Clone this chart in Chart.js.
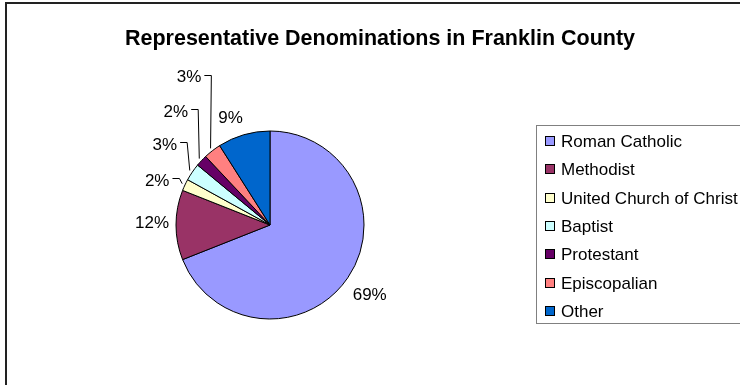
<!DOCTYPE html>
<html>
<head>
<meta charset="utf-8">
<script src="https://cdn.jsdelivr.net/npm/chart.js@4"></script>
<style>
  html, body { margin: 0; padding: 0; background: #fff; }
  #wrap { width: 740px; height: 385px; }
</style>
</head>
<body>
<div id="wrap"><canvas id="denomChart" width="740" height="385"></canvas></div>
<script>
const ctx = document.getElementById('denomChart').getContext('2d');

// Chart data
const labels = ['Roman Catholic', 'Methodist', 'United Church of Christ', 'Baptist', 'Protestant', 'Episcopalian', 'Other'];
const shares = [69, 12, 2, 3, 2, 3, 9];
const colors = ['#9999FF', '#993366', '#FFFFCC', '#CCFFFF', '#660066', '#FF8080', '#0066CC'];

// Label placement (distance from centre in px, angle shift in degrees, leader line)
const labelPos = [
	[122, 1, false],
	[118, 1, false],
	[121, -4, true],
	[132, 3, true],
	[147, 7, true],
	[168, 9, true],
	[114, -4, false]
];

const FONT = '"Liberation Sans", Arial, sans-serif';

const decorations = {
	id: 'decorations',
	beforeDraw(chart) {
		const c = chart.ctx;
		c.save();
		c.fillStyle = '#fff';
		c.fillRect(0, 0, chart.width, chart.height);
		// chart area frame
		c.strokeStyle = '#222';
		c.lineWidth = 2;
		c.strokeRect(6, 3, 760, 400);
		// title
		c.fillStyle = '#000';
		c.font = 'bold 21.5px ' + FONT;
		c.textAlign = 'center';
		c.textBaseline = 'alphabetic';
		c.fillText('Representative Denominations in Franklin County', 380, 45);
		// legend
		c.strokeStyle = '#808080';
		c.lineWidth = 1;
		c.strokeRect(536.5, 125.5, 260, 198);
		c.font = '17px ' + FONT;
		c.textAlign = 'left';
		chart.data.labels.forEach((lab, i) => {
			const cy = 141 + i * 28.3;
			c.fillStyle = colors[i];
			c.fillRect(545, Math.round(cy - 5), 10, 10);
			c.strokeStyle = '#000';
			c.strokeRect(545.5, Math.round(cy - 5) + 0.5, 9, 9);
			c.fillStyle = '#000';
			c.fillText(lab, 561, cy + 6);
		});
		c.restore();
	},
	afterDatasetsDraw(chart) {
		const c = chart.ctx;
		const meta = chart.getDatasetMeta(0);
		c.save();
		c.font = '17px ' + FONT;
		c.fillStyle = '#000';
		c.strokeStyle = '#000';
		c.lineWidth = 1;
		c.textAlign = 'center';
		c.textBaseline = 'middle';
		meta.data.forEach((arc, i) => {
			const p = arc.getProps(['x', 'y', 'startAngle', 'endAngle', 'outerRadius'], true);
			const mid = (p.startAngle + p.endAngle) / 2;
			const [dist, shift, leader] = labelPos[i];
			const a = mid + shift * Math.PI / 180;
			const lx = p.x + Math.cos(a) * dist;
			const ly = p.y + Math.sin(a) * dist;
			const txt = shares[i] + '%';
			c.fillText(txt, lx, ly);
			if (leader) {
				const w = c.measureText(txt).width;
				const x0 = lx + w / 2 + 3;
				const y0 = Math.round(ly - 3) + 0.5;
				const ex = p.x + Math.cos(mid) * (p.outerRadius + 3);
				const ey = p.y + Math.sin(mid) * (p.outerRadius + 3);
				c.beginPath();
				c.moveTo(x0, y0);
				c.lineTo(x0 + 7, y0);
				c.lineTo(ex, ey);
				c.stroke();
			}
		});
		c.restore();
	}
};

new Chart(ctx, {
	type: 'pie',
	data: {
		labels: labels,
		datasets: [{
			data: shares,
			backgroundColor: colors,
			borderColor: '#000',
			borderWidth: 1
		}]
	},
	options: {
		responsive: false,
		animation: false,
		layout: {
			padding: { left: 175.5, right: 375.5, top: 130.5, bottom: 65.5 }
		},
		plugins: {
			legend: { display: false },
			title: { display: false },
			tooltip: { enabled: false }
		}
	},
	plugins: [decorations]
});
</script>
</body>
</html>
